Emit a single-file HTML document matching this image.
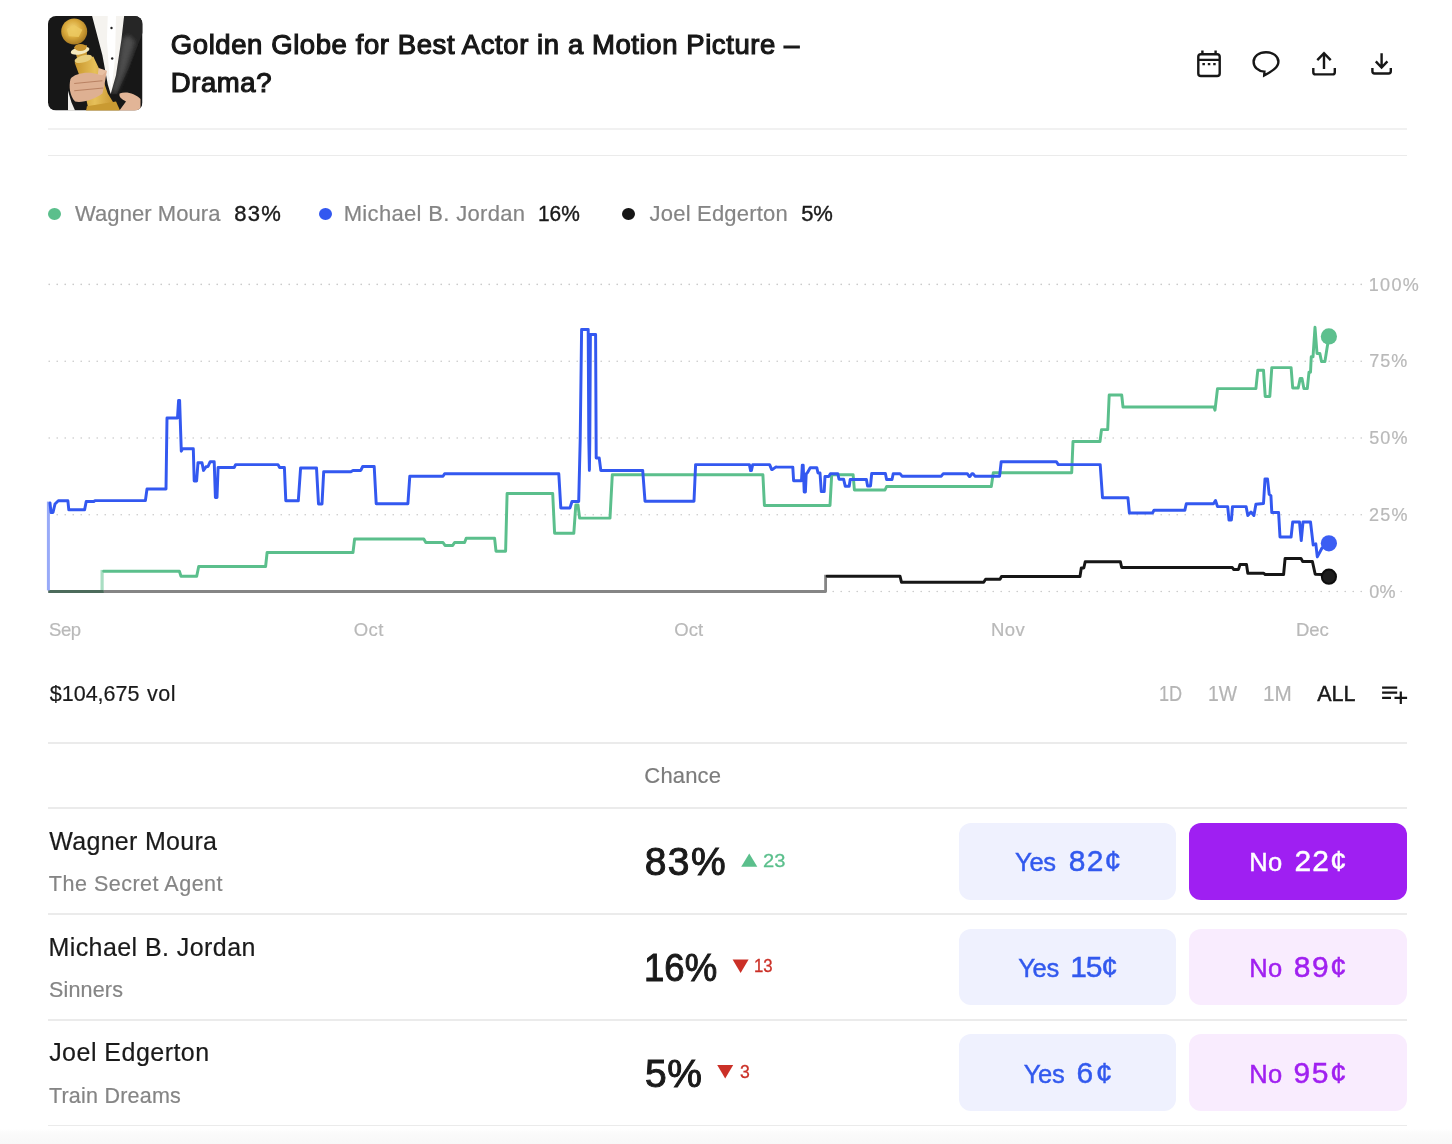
<!DOCTYPE html>
<html lang="en"><head><meta charset="utf-8"><title>Golden Globe for Best Actor in a Motion Picture – Drama?</title>
<style>
*{box-sizing:border-box}
html,body{margin:0;padding:0;background:#fff}
body{width:1452px;height:1144px;position:relative;overflow:hidden;font-family:"Liberation Sans",sans-serif;color:#1a1a1a}
.t{-webkit-text-stroke:0.2px currentColor;position:absolute;white-space:pre;line-height:1;margin:0;font-weight:400}
.abs{position:absolute}
.hr{position:absolute;left:48px;width:1359px;background:#ebebeb}
.btn{border:0;padding:0;margin:0;font:inherit;text-align:left;display:block;position:absolute;border-radius:12px;height:77px}
.yes{left:958.7px;width:217.3px;background:#eff1fe}
.no{left:1189px;width:218.1px;background:#f9ecfe}
.no.on{background:#9f1ff2}
.lab{-webkit-text-stroke:0.45px currentColor;position:absolute;white-space:pre;line-height:1}
.ylab{position:absolute;left:1366px;width:60px;height:22px;background:#fff}
.dot{position:absolute;width:13px;height:13px;border-radius:50%}
svg{position:absolute;overflow:visible}
</style></head><body>
<header>
<div class="abs" style="left:47.8px;top:16.4px;width:94.5px;height:94.5px"><svg class="thumb" width="94.5" height="94.5" viewBox="0 0 94.5 94.5">
<defs><clipPath id="tc"><rect x="0" y="0" width="94.5" height="94.5" rx="8" ry="8"/></clipPath><filter id="tb" x="-10%" y="-10%" width="120%" height="120%"><feGaussianBlur stdDeviation="0.7"/></filter><radialGradient id="gg" cx="0.45" cy="0.4" r="0.6"><stop offset="0" stop-color="#f3d77a"/><stop offset="0.55" stop-color="#d9a93c"/><stop offset="1" stop-color="#a87a22"/></radialGradient><linearGradient id="gb" x1="0" y1="0" x2="1" y2="0"><stop offset="0" stop-color="#c8952c"/><stop offset="0.45" stop-color="#e6c05a"/><stop offset="1" stop-color="#c08a26"/></linearGradient><filter id="tb2" x="-30%" y="-30%" width="160%" height="160%"><feGaussianBlur stdDeviation="2.2"/></filter></defs>
<g clip-path="url(#tc)"><rect width="94.5" height="94.5" fill="#171717"/><g filter="url(#tb)">
<polygon points="76.2,-0.7 94.8,-0.7 94.8,16.5 81.6,50.2 68.9,77.9 62.5,77.9 68.0,59.3 73.5,22.9" fill="#262626"/>
<polygon points="74.5,22.9 80.7,19.3 87.1,25.6 78.0,53.8 68.9,75.6 63.9,75.6 68.9,58.4" fill="#4e4e4e" filter="url(#tb2)"/>
<polygon points="43.9,-0.7 76.2,-0.7 73.5,22.9 68.0,59.3 62.7,77.9 59.8,68.4 54.4,39.3" fill="#f5f3ef"/>
<polygon points="59.8,-0.7 68.0,-0.7 67.1,41.1 63.5,73.8 61.2,59.3 58.9,22.9" fill="#ffffff"/>
<circle cx="63.5" cy="12.0" r="1.2" fill="#222"/>
<circle cx="64.2" cy="42.5" r="1.2" fill="#222"/>
<polygon points="20.0,74.7 23.5,86.5 27.5,95.6 20.0,95.6" fill="#f1efec"/>
<polygon points="26.6,46.5 45.3,40.6 51.6,53.8 59.8,77.5 65.3,86.5 71.6,95.6 38.0,95.6 39.8,90.2 35.3,70.2" fill="url(#gb)"/>
<polygon points="38.9,90.2 68.0,85.6 72.5,95.6 38.0,95.6" fill="#c99a30"/>
<polygon points="26.2,31.1 38.9,29.3 38.9,42.9 29.8,45.2" fill="#cf9f38"/>
<ellipse cx="32.1" cy="34.7" rx="9.5" ry="3.6" fill="#f4e9bd" transform="rotate(-12 32.1 34.7)"/>
<ellipse cx="32.5" cy="31.5" rx="6" ry="3.4" fill="#c9952e"/>
<ellipse cx="35.3" cy="42.9" rx="9" ry="3.5" fill="#e9cf7c" transform="rotate(-15 35.3 42.9)"/>
<circle cx="26.2" cy="15.5" r="13" fill="url(#gg)"/>
<polygon points="18.9,12.9 26.2,9.3 34.4,13.8 30.7,21.1 20.7,20.2" fill="#ecc960" opacity="0.85"/>
<path d="M22.5,62.9 C26.2,57.5 39.8,54.7 50.7,58.4 L58.9,54.7 L56.2,70.2 L54.4,77.5 C47.1,82.9 34.4,87.5 27.1,85.6 C21.6,79.3 20.7,70.2 22.5,62.9Z" fill="#deb092"/>
<path d="M50.7,52.0 L58.9,54.7 L54.4,59.3 L49.8,58.4Z" fill="#e8c0a2"/>
<path d="M26.2,67.5 L54.4,64.7 M26.2,74.7 L55.3,72.0" stroke="#b98263" stroke-width="1.1" fill="none"/>
<path d="M71.6,77.5 C78.0,74.7 87.1,77.5 92.5,82.9 L92.5,95.6 L70.7,95.6 L78.0,85.6 C73.5,82.9 70.7,81.1 71.6,77.5Z" fill="#e2b597"/>
</g></g></svg></div>
<h1 style="margin:0;font:inherit"><span class="t" style="left:170.80px;top:31.35px;font-size:27.5px;color:#171717;letter-spacing:0.581px;-webkit-text-stroke-width:1.15px">Golden Globe for Best Actor in a Motion Picture –</span> <span class="t" style="left:170.80px;top:68.85px;font-size:27.5px;color:#171717;letter-spacing:0.581px;-webkit-text-stroke-width:1.15px">Drama?</span></h1>
<svg style="left:1180px;top:40px" width="240" height="50" viewBox="1180 40 240 50" fill="none" stroke="#171717" stroke-width="2.4" stroke-linecap="butt" stroke-linejoin="round">
<rect x="1198.3" y="54.2" width="21.4" height="21.8" rx="2.6"/>
<path d="M1198.3 59.9H1219.7M1202.4 50.6V54.2M1215.6 50.6V54.2"/>
<path d="M1202.4 64.1H1204.9M1207.8 64.1H1210.3M1213.2 64.1H1215.7" stroke-width="2.3"/>
<path d="M1264.4 71.6C1257.6 71 1253.6 66.800 1253.6 61.700C1253.600 56.200 1259.000 52.200 1266.000 52.200C1273.000 52.200 1278.400 56.200 1278.400 61.700C1278.400 67.500 1272.000 71.300 1264.200 75.400Z" stroke-linejoin="miter"/>
<path d="M1313.3 68V72.2Q1313.300 74.400 1315.500 74.400H1332.600Q1334.800 74.400 1334.800 72.200V68M1324 69V52.600M1317.300 60.200L1324 53.200L1330.700 60.200" stroke-linejoin="miter"/>
<path d="M1372.400 68V71.300Q1372.400 73.500 1374.600 73.500H1388.600Q1390.800 73.500 1390.800 71.300V68M1381.600 53.200V67.600M1375.800 61.400L1381.600 67.600L1387.400 61.400" stroke-linejoin="miter"/>
</svg>

</header>
<div class="hr" style="top:128px;height:2px;background:#f1f1f1"></div>
<div class="hr" style="top:154.7px;height:1.4px"></div>
<section class="legend">
<i class="dot" style="left:48.0px;top:208px;height:12.2px;background:#5bbf8c"></i>
<i class="dot" style="left:318.9px;top:208px;height:12.2px;background:#3358f0"></i>
<i class="dot" style="left:622.4px;top:208px;height:12.2px;background:#161616"></i>
<span class="t" style="left:75.00px;top:203.00px;font-size:22.0px;color:#858585;letter-spacing:0.069px">Wagner Moura</span>
<span class="t" style="left:234.25px;top:203.00px;font-size:22.0px;color:#1a1a1a;letter-spacing:1.286px;-webkit-text-stroke-width:0.4px">83%</span>
<span class="t" style="left:343.70px;top:203.00px;font-size:22.0px;color:#858585;letter-spacing:0.330px">Michael B. Jordan</span>
<span class="t" style="left:537.75px;top:203.00px;font-size:22.0px;color:#1a1a1a;letter-spacing:0.000px;display:inline-block;transform-origin:0 0;transform:scaleX(0.9499);-webkit-text-stroke-width:0.4px">16%</span>
<span class="t" style="left:649.60px;top:203.00px;font-size:22.0px;color:#858585;letter-spacing:0.193px">Joel Edgerton</span>
<span class="t" style="left:801.20px;top:203.00px;font-size:22.0px;color:#1a1a1a;letter-spacing:-0.115px;-webkit-text-stroke-width:0.4px">5%</span>
</section>
<section class="chartwrap">
<svg style="left:0;top:270px" class="chart" width="1452" height="360" viewBox="0 270 1452 360">
<line x1="49.2" y1="284.4" x2="1402" y2="284.4" stroke="#c8c8c8" stroke-width="1.6" stroke-linecap="round" stroke-dasharray="0.01 7.99"/>
<line x1="49.2" y1="361.3" x2="1402" y2="361.3" stroke="#c8c8c8" stroke-width="1.6" stroke-linecap="round" stroke-dasharray="0.01 7.99"/>
<line x1="49.2" y1="438" x2="1402" y2="438" stroke="#c8c8c8" stroke-width="1.6" stroke-linecap="round" stroke-dasharray="0.01 7.99"/>
<line x1="49.2" y1="514.7" x2="1402" y2="514.7" stroke="#c8c8c8" stroke-width="1.6" stroke-linecap="round" stroke-dasharray="0.01 7.99"/>
<line x1="49.2" y1="591.5" x2="1402" y2="591.5" stroke="#c8c8c8" stroke-width="1.6" stroke-linecap="round" stroke-dasharray="0.01 7.99"/>
<polyline points="48.4,591.5 825.6,591.5 825.6,574.8" fill="none" stroke="#858585" stroke-width="2.8" stroke-linejoin="round"/>
<polyline points="102.1,591.5 102.1,569.9" fill="none" stroke="#a9dec3" stroke-width="3.2"/>
<polyline points="48.4,591.5 103.7,591.5" fill="none" stroke="#4c6b5b" stroke-width="2.8"/>
<polyline points="48.4,590.4 48.4,501.6" fill="none" stroke="#98aaf8" stroke-width="3"/>
<polyline points="827.2,576.2 900,576.2 901.5,582.3 983.7,582.3 985.6,579.3 1000,579.3 1001.5,576.5 1080,576.5 1081.3,568 1083.8,568 1085.2,561.7 1120.4,561.7 1121.7,567.5 1232.3,567.5 1233.6,569.4 1238.5,569.4 1240,564.5 1246.5,564.5 1247.8,573.2 1263.5,573.2 1265.2,574.5 1283.6,574.5 1285.1,558.4 1301,558.4 1302.7,561.5 1312.4,561.5 1315.2,574.3 1322,574.5 1328.9,576.7" fill="none" stroke="#161616" stroke-width="2.95" stroke-linejoin="round" stroke-linecap="round"/>
<polyline points="103.7,571.3 179.4,571.3 181,576.2 196.7,576.2 198.7,566.5 265.6,566.5 267.1,552.5 353,552.5 354.6,539 423.8,539 425.8,542.5 443,542.5 445,545.4 452.7,545.4 454.6,542.5 464.6,542.5 466.2,538.3 494.6,538.3 496,551.2 505.6,551.2 507.1,493.5 552.7,493.5 554.6,533.3 573.8,533.3 575.8,505 578,505 579.6,518.1 610,518.1 612.3,474.8 762.9,474.8 764.4,505.4 830,505.4 831.7,474.7 853.1,474.7 854.4,490 885,490 886.6,486.5 991.3,486.5 993.3,472.8 1071.7,472.8 1073,441.5 1100,441.5 1101.5,429.6 1107.7,429.6 1109.2,395 1121.7,395 1123,407 1213.9,407 1215,410.2 1217.5,388.6 1255.9,388.6 1257.8,370.2 1263.5,370.2 1265.2,396.4 1269.8,396.4 1271.8,367.6 1291.1,367.6 1292.7,388 1298.2,388 1300.2,378.4 1302,378.4 1303.9,388.6 1307.3,388.6 1309,372.2 1310.5,372.2 1311.25,356.8 1313,356.8 1315,327.3 1317,353.4 1319.8,353.4 1321.5,361.4 1324.9,361.4 1328.9,336.4" fill="none" stroke="#5bbf8c" stroke-width="2.95" stroke-linejoin="round" stroke-linecap="round"/>
<polyline points="50,503 51,512.5 53,512.5 55,504 58.3,500.8 67.9,500.8 68.8,509.8 84.6,509.8 86.2,501.5 93.8,501.5 95,500.6 145.4,500.6 147,489 166,489 167,417.9 177.5,417.9 178.6,400.4 179.6,400.4 181.3,451.2 182.5,448.8 193.3,448.8 194.2,481 196.6,481 198,462.7 202,462.7 203.5,470.4 206,466.8 208,466.5 210.2,461.7 214.2,461.7 215.4,497.5 217,497.5 218.1,467.5 234.2,467.5 235.6,464.6 278,464.6 279.6,467.5 284.4,467.5 285.8,500.8 298.3,500.8 300.6,467.9 316.5,467.9 318.5,504 322,504 323.7,471.7 350.8,471.7 353,470.4 360.8,470.4 362.7,466.5 374.2,466.5 376.2,503.7 407.9,503.7 409.8,476.2 443,476.2 444.6,473.8 558.8,473.8 560.8,507.9 570,507.9 572,501.5 578.7,501.5 580.2,440 581.6,329.4 588.2,329.4 588.8,440 589.4,470.4 589.8,440 590.4,334.5 595.6,334.5 596.2,457.9 599.2,457.9 600.8,470.4 642.7,470.4 645,501.2 694,501.2 695.6,464.6 749.4,464.6 750.6,470.6 751.4,470.6 752.7,464.6 769.6,464.6 771.6,469.4 772.6,469.4 776,466.9 777.3,467.1 792.8,467.1 793.6,480.7 801.5,480.7 802.3,465.2 803.2,465.2 804.2,492 805.4,492 806.2,474 807.7,472.2 810.2,467.7 816.8,467.7 818,473 820,473 821.3,491.6 824.2,491.6 825,476.4 828.8,476.4 830.4,473.7 837.8,473.7 839,479.2 843.6,479.2 845.3,486.3 849.2,486.3 850.2,479.5 866.4,479.5 867.6,485.9 870.5,485.9 871.7,473.5 885.4,473.5 886.6,479.5 892,479.5 893.2,473.7 900,473.7 902,476.2 941.3,476.2 943.3,473.7 967.3,473.7 969.2,476.5 970,476.5 972,473.7 973,473.7 975,476.2 999.6,476.2 1001.2,461.7 1056.3,461.7 1058.3,464.6 1100.2,464.6 1102.5,497.7 1127.9,497.7 1129.4,513 1152.5,513 1154,510.3 1184.8,510.3 1186.3,503.75 1213.5,503.75 1215.5,500.5 1217.5,506.6 1227.7,506.6 1229,520 1231.4,520 1232.5,506.6 1246.1,506.6 1247.8,515.5 1251,512 1253.9,515.5 1255.9,504.3 1263.5,503.5 1265,478.9 1267.5,478.9 1269.2,494.4 1270.9,495.6 1271.8,512.6 1278.6,512.6 1280,537 1291.1,537 1292.7,522 1299.5,522 1301.25,540.5 1303,522 1310.5,522 1313.2,545 1315.8,543.9 1317.3,556.9 1322,548 1328.9,543.3" fill="none" stroke="#3358f0" stroke-width="2.95" stroke-linejoin="round" stroke-linecap="round"/>
<circle cx="1328.9" cy="336.4" r="8.1" fill="#5dc08e"/>
<circle cx="1328.9" cy="543.3" r="8.1" fill="#3c5ef3"/>
<circle cx="1328.9" cy="576.7" r="7.1" fill="#1d1d1d" stroke="#0d0d0d" stroke-width="2"/>
</svg>
<div class="ylab" style="top:273.5px"></div>
<div class="ylab" style="top:350.25px"></div>
<div class="ylab" style="top:427px"></div>
<div class="ylab" style="top:503.75px"></div>
<div class="ylab" style="top:580.5px;width:32px"></div>
<span class="t" style="left:1368.75px;top:275.70px;font-size:18.0px;color:#b9b9b9;letter-spacing:1.346px">100%</span>
<span class="t" style="left:1369.25px;top:352.20px;font-size:18.0px;color:#b9b9b9;letter-spacing:0.982px">75%</span>
<span class="t" style="left:1369.15px;top:429.45px;font-size:18.0px;color:#b9b9b9;letter-spacing:1.168px">50%</span>
<span class="t" style="left:1368.90px;top:506.20px;font-size:18.0px;color:#b9b9b9;letter-spacing:1.293px">25%</span>
<span class="t" style="left:1369.15px;top:582.55px;font-size:18.0px;color:#b9b9b9;letter-spacing:0.373px">0%</span>
<span class="t" style="left:48.90px;top:621.25px;font-size:18.5px;color:#b9b9b9;letter-spacing:-0.329px">Sep</span>
<span class="t" style="left:353.75px;top:621.25px;font-size:18.5px;color:#b9b9b9;letter-spacing:0.447px">Oct</span>
<span class="t" style="left:674.30px;top:621.25px;font-size:18.5px;color:#b9b9b9;letter-spacing:0.047px">Oct</span>
<span class="t" style="left:990.95px;top:621.25px;font-size:18.5px;color:#b9b9b9;letter-spacing:0.433px">Nov</span>
<span class="t" style="left:1295.95px;top:621.25px;font-size:18.5px;color:#b9b9b9;letter-spacing:-0.012px">Dec</span>
</section>
<section class="volrow">
<span class="t" style="left:49.80px;top:683.65px;font-size:21.5px;color:#1a1a1a;letter-spacing:-0.005px">$104,675</span>
<span class="t" style="left:147.00px;top:683.65px;font-size:21.5px;color:#1a1a1a;letter-spacing:0.576px">vol</span>
<span class="t" style="left:1158.75px;top:683.65px;font-size:21.5px;color:#b4b4b4;letter-spacing:0.000px;display:inline-block;transform-origin:0 0;transform:scaleX(0.8455)">1D</span>
<span class="t" style="left:1207.75px;top:683.65px;font-size:21.5px;color:#b4b4b4;letter-spacing:0.000px;display:inline-block;transform-origin:0 0;transform:scaleX(0.9022)">1W</span>
<span class="t" style="left:1262.75px;top:683.65px;font-size:21.5px;color:#b4b4b4;letter-spacing:0.000px;display:inline-block;transform-origin:0 0;transform:scaleX(0.9638)">1M</span>
<span class="t" style="left:1317.35px;top:683.65px;font-size:21.5px;color:#1a1a1a;letter-spacing:-0.101px;-webkit-text-stroke-width:0.45px">ALL</span>
<svg style="left:1375px;top:680px" width="40" height="30" viewBox="1375 680 40 30" fill="none" stroke="#171717" stroke-width="2.2">
<path d="M1382.100 687.600H1397.200M1382.100 692.700H1397.200M1382.100 697.800H1391M1394.500 697.800H1407.100M1400.800 691.500V704.100"/>
</svg>

</section>
<section class="table">
<div class="hr" style="top:742px;height:2px"></div>
<div class="hr" style="top:807px;height:2px"></div>
<div class="hr" style="top:913.05px;height:1.8px"></div>
<div class="hr" style="top:1019px;height:1.9px"></div>
<div class="hr" style="top:1124.7px;height:1.5px"></div>
<span class="t" style="left:644.35px;top:764.50px;font-size:22.0px;color:#7c7c7c;letter-spacing:0.147px">Chance</span>
<div class="row">
<span class="t" style="left:49.35px;top:828.90px;font-size:25px;color:#1a1a1a;letter-spacing:0.285px">Wagner Moura</span>
<span class="t" style="left:48.85px;top:873.75px;font-size:21.5px;color:#858585;letter-spacing:0.503px">The Secret Agent</span>
<span class="t" style="left:644.65px;top:842.30px;font-size:39.0px;color:#1a1a1a;letter-spacing:1.530px;-webkit-text-stroke-width:1.0px">83%</span>
<svg style="left:0;top:0" width="1452" height="1144"><polygon points="741.2,866.8 757.3,866.8 749.25,853.5" fill="#5bbf8c"/></svg>
<span class="t" style="left:763.25px;top:852.40px;font-size:18px;color:#5bbf8c;letter-spacing:0.000px;display:inline-block;transform-origin:0 0;transform:scaleX(1.1181);-webkit-text-stroke-width:0.3px">23</span>
<button class="btn yes" style="top:822.9px;height:77px"><span class="lab" style="left:56.35px;top:23.50px;color:#3259ee;font-size:30.0px"><span style="font-size:25.5px;letter-spacing:-0.264px">Yes</span><span style="margin-left:12.98px;letter-spacing:1.155px">82¢</span></span></button>
<button class="btn no on" style="top:822.9px;height:77px"><span class="lab" style="left:60.25px;top:23.50px;color:#ffffff;font-size:30.0px"><span style="font-size:25.5px;letter-spacing:0.244px">No</span><span style="margin-left:12.20px;letter-spacing:1.020px">22¢</span></span></button>
</div>
<div class="row">
<span class="t" style="left:48.40px;top:935.00px;font-size:25px;color:#1a1a1a;letter-spacing:0.431px">Michael B. Jordan</span>
<span class="t" style="left:48.95px;top:979.60px;font-size:21.5px;color:#858585;letter-spacing:0.178px">Sinners</span>
<span class="t" style="left:643.75px;top:947.70px;font-size:39.0px;color:#1a1a1a;letter-spacing:0.000px;display:inline-block;transform-origin:0 0;transform:scaleX(0.9375);-webkit-text-stroke-width:1.0px">16%</span>
<svg style="left:0;top:0" width="1452" height="1144"><polygon points="732.6,959.5 748.6,959.5 740.6,972.9" fill="#cb3027"/></svg>
<span class="t" style="left:754.00px;top:956.75px;font-size:18px;color:#cb3027;letter-spacing:0.000px;display:inline-block;transform-origin:0 0;transform:scaleX(0.9310);-webkit-text-stroke-width:0.3px">13</span>
<button class="btn yes" style="top:928.9px;height:76px"><span class="lab" style="left:59.50px;top:23.45px;color:#3259ee;font-size:30.0px"><span style="font-size:25.5px;letter-spacing:-0.264px">Yes</span><span style="margin-left:11.33px;letter-spacing:-1.240px">15¢</span></span></button>
<button class="btn no" style="top:928.9px;height:76px"><span class="lab" style="left:60.25px;top:23.45px;color:#a020f0;font-size:30.0px"><span style="font-size:25.5px;letter-spacing:0.244px">No</span><span style="margin-left:11.30px;letter-spacing:1.555px">89¢</span></span></button>
</div>
<div class="row">
<span class="t" style="left:49.15px;top:1040.00px;font-size:25px;color:#1a1a1a;letter-spacing:0.479px">Joel Edgerton</span>
<span class="t" style="left:48.90px;top:1085.55px;font-size:21.5px;color:#858585;letter-spacing:0.224px">Train Dreams</span>
<span class="t" style="left:644.90px;top:1053.50px;font-size:39.0px;color:#1a1a1a;letter-spacing:0.617px;-webkit-text-stroke-width:1.0px">5%</span>
<svg style="left:0;top:0" width="1452" height="1144"><polygon points="717.2,1065.1 733.2,1065.1 725.2,1078.5" fill="#cb3027"/></svg>
<span class="t" style="left:739.50px;top:1063.10px;font-size:18px;color:#cb3027;letter-spacing:0.000px;display:inline-block;transform-origin:0 0;transform:scaleX(0.9805);-webkit-text-stroke-width:0.3px">3</span>
<button class="btn yes" style="top:1033.8px;height:77.1px"><span class="lab" style="left:65.15px;top:24.40px;color:#3259ee;font-size:30.0px"><span style="font-size:25.5px;letter-spacing:-0.389px">Yes</span><span style="margin-left:12.26px;letter-spacing:2.600px">6¢</span></span></button>
<button class="btn no" style="top:1033.8px;height:77.1px"><span class="lab" style="left:60.25px;top:24.40px;color:#a020f0;font-size:30.0px"><span style="font-size:25.5px;letter-spacing:0.244px">No</span><span style="margin-left:11.05px;letter-spacing:1.680px">95¢</span></span></button>
</div>
</section>
<div class="abs" style="left:0;top:1129px;width:1452px;height:15px;background:linear-gradient(#fff,#fbfbfb 25%,#f8f8f8)"></div>
</body></html>
